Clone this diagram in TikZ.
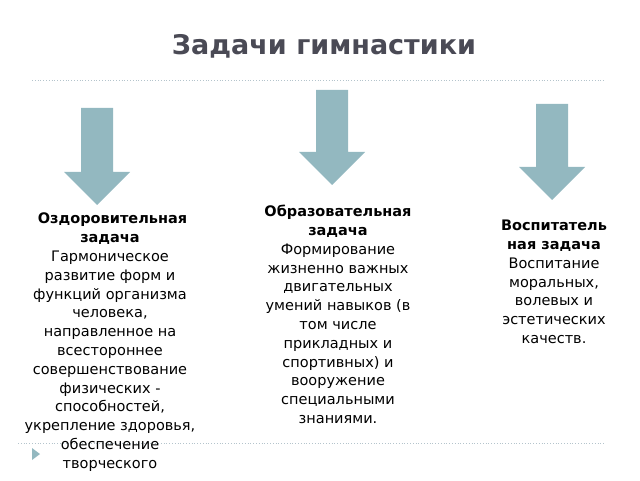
\documentclass[tikz,border=0pt]{standalone}
\usepackage{fontspec}
\setmainfont{DejaVu Sans}
\usetikzlibrary{positioning}
\definecolor{arrowfill}{HTML}{93B8C0}
\definecolor{titlegray}{HTML}{4A4A55}
\definecolor{rulegray}{HTML}{B4C4CC}
\tikzset{
  downarrow/.style={fill=arrowfill, draw=none},
  taskbox/.style={align=center, anchor=north, inner sep=0pt, font=\fontsize{14.5}{18.8}\selectfont},
  rule/.style={rulegray, dotted, line width=0.8pt}}

\newcommand{\downarr}[4]{% name, centre x, top y, tip y
  \fill[downarrow] (#2-16,#3) -- (#2+16,#3) -- (#2+16,#4+33) -- (#2+33,#4+33)
    -- (#2,#4) -- (#2-33,#4+33) -- (#2-16,#4+33) -- cycle;
  \coordinate (#1) at (#2,#4);}

\begin{document}
\begin{tikzpicture}[x=1pt,y=1pt]
        \useasboundingbox (0,0) rectangle (640,480);
        \begin{scope}
        \clip (0,0) rectangle (640,480);
        \node[text=titlegray, font=\fontsize{27}{30}\bfseries\selectfont] (title) at (324,434) {Задачи гимнастики};
        \draw[rule] (32,400) -- (605,400);
        \draw[rule] (18,37) -- (605,37);

        \downarr{a1}{97}{372}{275}
        \downarr{a2}{332}{390}{295}
        \downarr{a3}{552}{376}{280}

        \node[taskbox] (health) at (110,267) {\textbf{\ Оздоровительная}\\\textbf{задача}\\
          Гармоническое\\развитие форм и\\функций организма\\человека,\\направленное на\\
          всестороннее\\совершенствование\\физических -\\способностей,\\укрепление здоровья,\\
          обеспечение\\творческого};
        \fill[arrowfill] (32,32) -- (32,20) -- (40,26) -- cycle;

        \node[taskbox] (educ) at (338,275) {\textbf{Образовательная}\\\textbf{задача}\\
          Формирование\\жизненно важных\\двигательных\\умений навыков (в\\том числе\\
          прикладных и\\спортивных) и\\вооружение\\специальными\\знаниями.};

        \node[taskbox] (upbr) at (554,260) {\textbf{Воспитатель}\\\textbf{ная задача}\\
          Воспитание\\моральных,\\волевых и\\эстетических\\качеств.};
        \end{scope}
\end{tikzpicture}
\end{document}
